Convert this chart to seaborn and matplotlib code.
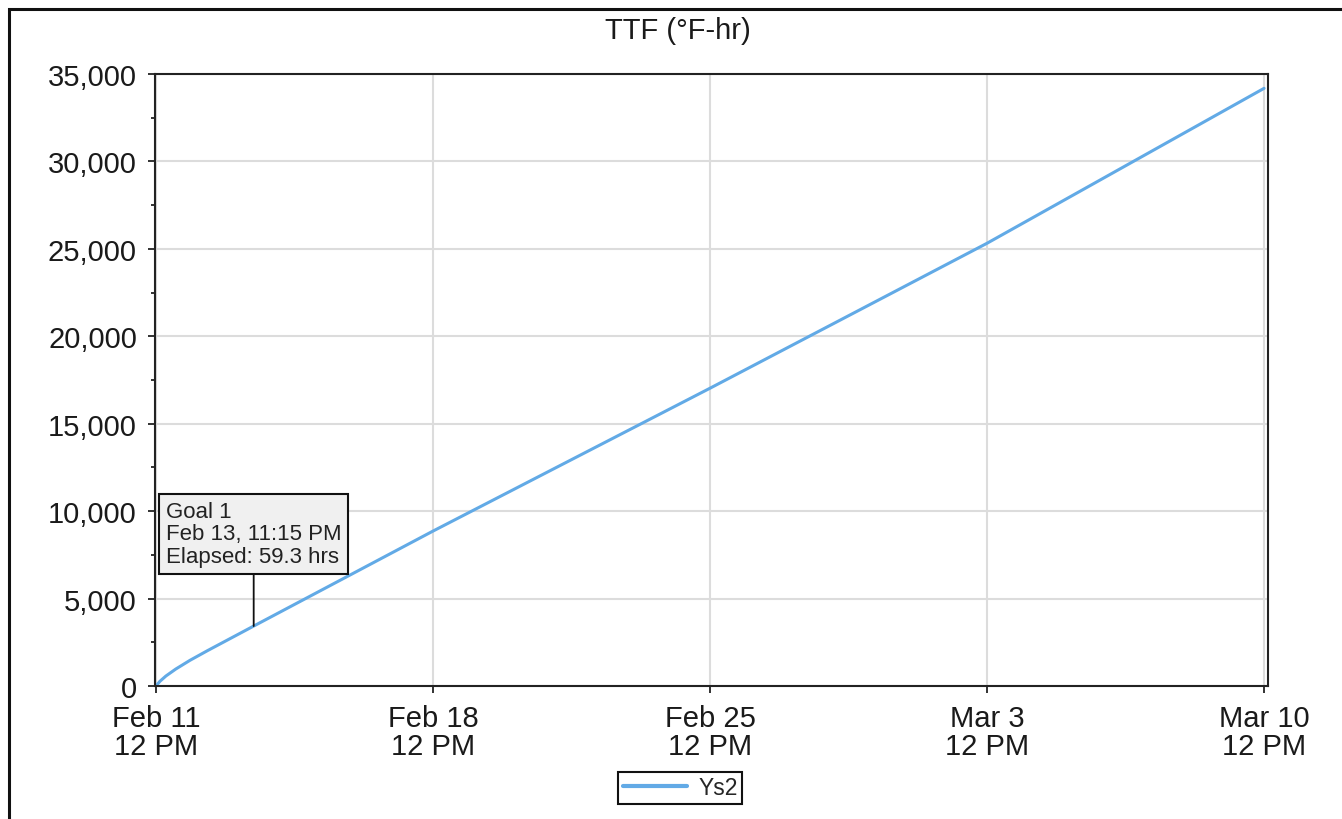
import numpy as np
import pandas as pd
import seaborn as sns
import matplotlib.pyplot as plt
import matplotlib.dates as mdates
from matplotlib.ticker import StrMethodFormatter, MultipleLocator
from matplotlib.patches import Rectangle

# values (days after Feb 11 12 PM -> TTF)
days = [0, 0.1, 0.25, 0.5, 0.86, 1.3, 1.69, 2.47, 7, 14, 21, 28]
ttf = [0, 270, 570, 970, 1470, 2020, 2490, 3430, 8860, 17030, 25320, 34180]
series_name = "Ys2"
start = pd.Timestamp("2024-02-11 12:00")
tick_days = [0, 7, 14, 21, 28]
goal_day = 59.25 / 24
goal_val = 3430
goal_text = "Goal 1\nFeb 13, 11:15 PM\nElapsed: 59.3 hrs"

df = pd.DataFrame({"time": [start + pd.Timedelta(days=d) for d in days], "ttf": ttf})

sns.set_style("ticks")
plt.rcParams["font.family"] = ["Liberation Sans", "DejaVu Sans"]

fig = plt.figure(figsize=(13.42, 8.2), dpi=100)
ax = fig.add_axes([155 / 1342, 1 - 687 / 820, (1268 - 155) / 1342, (687 - 75) / 820])

sns.lineplot(data=df, x="time", y="ttf", ax=ax, color="#62aae6", linewidth=2.2, label=series_name, legend=False)

ax.set_xlim(start - pd.Timedelta(hours=0.6), start + pd.Timedelta(days=28.1))
ax.set_ylim(0, 35000)
ax.set_xticks([start + pd.Timedelta(days=d) for d in tick_days])
ax.xaxis.set_major_formatter(mdates.DateFormatter("%b %-d\n%-I %p"))
ax.yaxis.set_major_locator(MultipleLocator(5000))
ax.yaxis.set_minor_locator(MultipleLocator(2500))
ax.yaxis.set_major_formatter(StrMethodFormatter("{x:,.0f}"))
ax.set_xlabel("")
ax.set_ylabel("")

ax.grid(True, which="major", color="#dcdcdc", linewidth=1.5)
ax.set_axisbelow(True)
for s in ax.spines.values():
    s.set_visible(True)
    s.set_color("#222222")
    s.set_linewidth(1.5)
ax.tick_params(axis="both", which="major", length=5, width=1.3, color="#222222",
               labelsize=21, labelcolor="#1a1a1a", pad=8)
ax.tick_params(axis="y", which="minor", length=3, width=1.3, color="#222222")
for lab in ax.get_xticklabels():
    lab.set_linespacing(1.0)

fig.text(678 / 1342, 1 - 31 / 820, "TTF (°F-hr)", ha="center", va="center", fontsize=21, color="#1a1a1a")

ax.annotate(goal_text, xy=(start + pd.Timedelta(days=goal_day), goal_val),
            xytext=(0, 59), textcoords="offset pixels", ha="center", va="bottom",
            multialignment="left", fontsize=16, color="#222222", linespacing=1.1,
            bbox=dict(boxstyle="square,pad=0.3", fc="#f0f0f0", ec="#111111", lw=1.5),
            arrowprops=dict(arrowstyle="-", color="#111111", lw=1.3, relpos=(0.5, 0), shrinkA=0, shrinkB=0))

leg = fig.legend(loc="center", bbox_to_anchor=(680 / 1342, 1 - 789 / 820), fontsize=16.5,
                 fancybox=False, edgecolor="#111111", framealpha=1, handlelength=2.8,
                 borderpad=0.2, handletextpad=0.5)
leg.get_frame().set_linewidth(1.5)
for line in leg.get_lines():
    line.set_linewidth(3)

fig.patches.append(Rectangle((9 / 1342, -0.05), 1.1, 1.05 - 10 / 820, transform=fig.transFigure,
                             fill=False, ec="#111111", lw=2.2, clip_on=False))

fig.savefig("out.png", dpi=100)
